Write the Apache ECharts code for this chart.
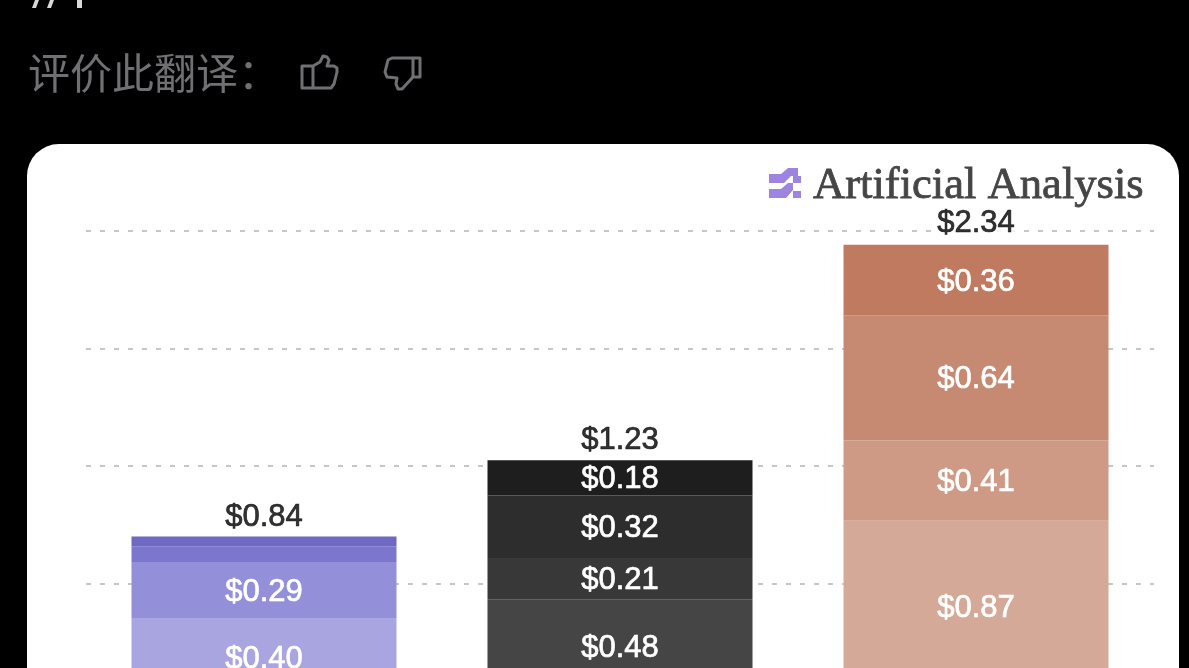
<!DOCTYPE html>
<html><head><meta charset="utf-8">
<style>html,body{margin:0;padding:0;background:#000;overflow:hidden}#c{width:1189px;height:668px}</style>
<script src="https://cdn.jsdelivr.net/npm/echarts@6/dist/echarts.min.js"></script>
</head><body><div id="c"></div>
<script>
const categories = ['A', 'B', 'C'];
const totals = [0.84, 1.23, 2.34];
const layer1 = [0.02, 0.04, 0.05];
const layer2 = [0.40, 0.48, 0.87];
const layer3 = [0.29, 0.21, 0.41];
const layer4 = [0.08, 0.32, 0.64];
const layer5 = [0.05, 0.18, 0.36];
const layers = [layer1, layer2, layer3, layer4, layer5];
const layerColors = [
  ['#b4b0e4', '#4c4c4c', '#d9b0a0'],
  ['#a9a5e0', '#454545', '#d5a998'],
  ['#938fd8', '#383838', '#cf9a85'],
  ['#7c76cf', '#2d2d2d', '#c68a73'],
  ['#6f69c4', '#1e1e1e', '#bf7a5f']
];
const yTicks = {min: 0, max: 2.4, interval: 0.6};
const font = '"Liberation Sans", Arial, sans-serif';
const iconStyle = {fill: 'none', stroke: '#707074', lineWidth: 3, lineJoin: 'round'};

const chart = echarts.init(document.getElementById('c'), null, {renderer: 'canvas'});
const series = layers.map((vals, i) => ({
  type: 'bar', stack: 'cost', barWidth: 265, z: 3,
  data: vals.map((v, j) => ({value: v, itemStyle: {color: layerColors[i][j]}})),
  label: {
    show: i > 0, position: 'inside', offset: [0, 2], color: '#fff', fontFamily: font, fontSize: 31,
    textBorderColor: '#fff', textBorderWidth: 0.7,
    formatter: p => p.value >= 0.1 ? '$' + p.value.toFixed(2) : ''
  }
}));
series.push({
  type: 'scatter', data: totals, symbolSize: 0, z: 6, silent: true,
  label: {
    show: true, position: 'top', distance: 4, color: '#000', fontFamily: font, fontSize: 31,
    textBorderColor: '#000', textBorderWidth: 0.7,
    backgroundColor: '#fff', padding: [0, 0, 0, 0],
    formatter: p => '$' + p.value.toFixed(2)
  }
});
chart.setOption({
  animation: false,
  backgroundColor: '#000',
  grid: {left: 86, top: 231, width: 1068, height: 470, outerBoundsMode: 'none', containLabel: false},
  xAxis: {type: 'category', data: categories, axisLine: {show: false}, axisTick: {show: false}, axisLabel: {show: false}},
  yAxis: {type: 'value', min: yTicks.min, max: yTicks.max, interval: yTicks.interval,
    axisLine: {show: false}, axisTick: {show: false}, axisLabel: {show: false},
    splitLine: {lineStyle: {color: '#c6c6c6', width: 2, type: [5, 9]}}},
  series,
  graphic: [
    {type: 'rect', z: -10, shape: {x: 27, y: 144, width: 1152, height: 620, r: 32}, style: {fill: '#fff'}},
    {type: 'polygon', shape: {points: [[35,0],[39,0],[36,8],[32,8]]}, style: {fill: '#d8d8d8'}},
    {type: 'polygon', shape: {points: [[50,0],[54,0],[51,8],[47,8]]}, style: {fill: '#d8d8d8'}},
    {type: 'polygon', shape: {points: [[77,0],[82,0],[82,8],[77,8]]}, style: {fill: '#d8d8d8'}},
    {type: 'text', x: 28, y: 73, style: {text: '评价此翻译：', fill: '#707074', font: '400 42px "Noto Sans CJK SC"', verticalAlign: 'middle'}},
    {type: 'polygon', shape: {points: [[302,66],[313,66],[320,62],[323,56],[327,57],[329,60],[327,66],[334,66],[337,68],[337,72],[334,84],[331,88],[302,88]]}, style: iconStyle},
    {type: 'line', shape: {x1: 313, y1: 66, x2: 313, y2: 88}, style: iconStyle},
    {type: 'polygon', shape: {points: [[420,58],[392,58],[388,60],[385,72],[387,77],[397,78],[396,84],[398,89],[402,89],[413,77],[420,77]]}, style: iconStyle},
    {type: 'line', shape: {x1: 413, y1: 58, x2: 413, y2: 77}, style: iconStyle},
    {type: 'polygon', shape: {points: [[769,174],[781,174],[788,168],[798,168],[798,176],[791,176],[784,183],[769,183]]}, style: {fill: '#9c84e0'}},
    {type: 'polygon', shape: {points: [[769,189],[781,189],[788,183],[793,183],[793,190],[786,198],[769,198]]}, style: {fill: '#9c84e0'}},
    {type: 'rect', shape: {x: 793, y: 176, width: 8, height: 7}, style: {fill: '#9c84e0'}},
    {type: 'rect', shape: {x: 793, y: 191, width: 8, height: 7}, style: {fill: '#9c84e0'}},
    {type: 'text', x: 813, y: 186, style: {text: 'Artificial Analysis', fill: '#454545', font: '400 44.6px "Liberation Serif"', verticalAlign: 'middle', stroke: '#454545', lineWidth: 0.8}}
  ]
});
</script></body></html>
